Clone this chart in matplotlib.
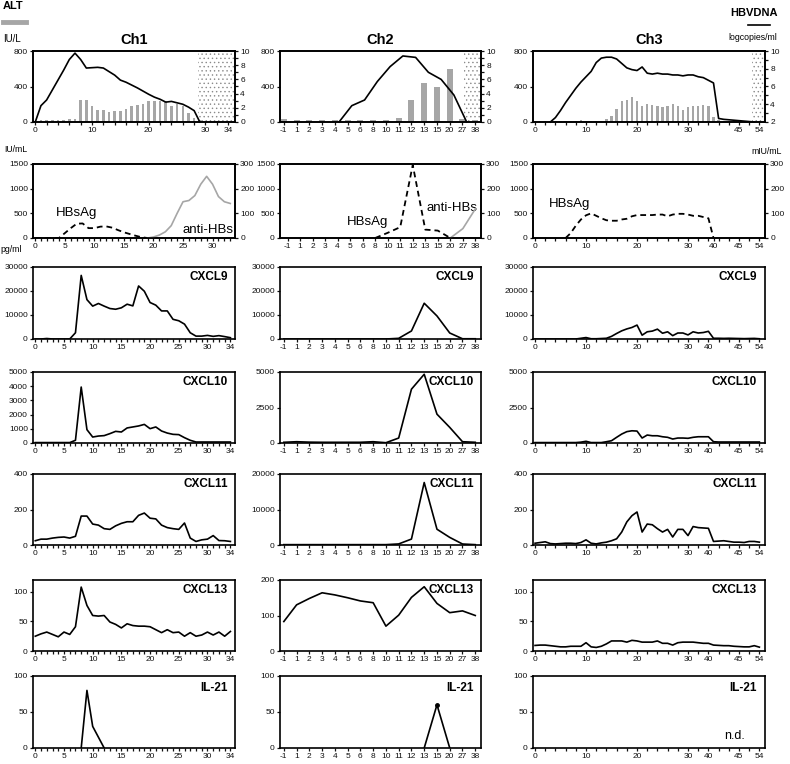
import numpy as np
import matplotlib.pyplot as plt
from matplotlib.lines import Line2D
from matplotlib.transforms import offset_copy

plt.rcParams['font.family'] = ['Liberation Sans', 'DejaVu Sans']
plt.rcParams['hatch.linewidth'] = 0.5
nan = np.nan

# x axes: Ch1 daily, Ch2 categorical sample days, Ch3 sample index
ch1_days = np.arange(35)
ch2_days = ['-1', '1', '2', '3', '4', '5', '6', '8', '10', '11', '12', '13', '15', '20', '27', '38']
ch3_idx = np.arange(45)

ch1_lab_top = [0, 10, 20, 30, 34]
ch1_lab_hbs = [0, 5, 10, 15, 20, 25, 30]
ch1_lab = [0, 5, 10, 15, 20, 25, 30, 34]
ch3_lab_top = ['0', '10', '20', '30', '45', '54']
ch3_pos_top = [0, 10, 20, 30, 40, 44]
ch3_lab_hbs = ['0', '10', '20', '30', '40', '45', '54']
ch3_pos_hbs = [0, 10, 20, 30, 35, 40, 44]
ch3_lab = ['0', '10', '20', '30', '40', '45', '54']
ch3_pos = [0, 10, 20, 30, 34, 40, 44]

# ALT (IU/L) bars and HBV DNA (log copies/ml) lines
ch1_alt = [10, 20, 20, 20, 25, 25, 30, 35, 250, 243, 176, 138, 138, 112, 127, 127, 150, 176,
           195, 205, 232, 232, 240, 240, 183, 202, 183, 100, 45, 25, 15, 15, 15, 15, 15]
ch1_dna_days = [0, 1, 2, 4, 5, 6, 7, 8, 9, 11, 12, 14, 15, 16, 18, 20, 21, 22, 23, 24, 26, 27, 28, 29]
ch1_dna = [0, 2.3, 3.1, 5.9, 7.3, 8.8, 9.7, 8.8, 7.6, 7.7, 7.6, 6.6, 5.9, 5.6, 4.8, 3.9, 3.5,
           3.2, 2.8, 2.9, 2.5, 2.1, 1.6, 0]
ch2_alt = [34, 26, 26, 26, 26, 19, 26, 26, 26, 45, 250, 437, 400, 598, 37, 22]
ch2_dna = [nan, nan, nan, nan, 0, 2.3, 3.1, 5.7, 7.8, 9.3, 9.1, 7.0, 6.0, 3.8, 0, nan]
ch3_alt = [15, 15, 15, 15, 15, 15, 15, 15, 15, 20, 15, 15, 15, 15, 30, 71, 146, 232, 250, 277,
           239, 183, 202, 194, 183, 164, 183, 206, 176, 138, 164, 176, 176, 187, 183, 52,
           20, 15, 15, 15, 15, 15, 15, 15, 15]
ch3_dna = [nan, nan, nan, 2.0, 2.5, 3.3, 4.2, 5.0, 5.8, 6.5, 7.1, 7.7, 8.7, 9.2, 9.3, 9.3, 9.1,
           8.6, 8.1, 7.9, 7.8, 8.2, 7.5, 7.4, 7.5, 7.4, 7.4, 7.3, 7.3, 7.2, 7.3, 7.3, 7.1, 7.0,
           6.7, 6.4, 2.4, 2.3, 2.25, 2.2, 2.15, 2.1, 2.05, 2.0, nan]
dotted_from = {1: 28.7, 2: 14.1, 3: 42.5}

# HBsAg (dashed) and anti-HBs (grey)
ch1_hbsag = [0, 0, 0, 0, 0, 100, 200, 290, 295, 200, 200, 230, 235, 210, 160, 115, 80, 45, 15, 0]
ch1_anti_days = np.arange(19, 34)
ch1_anti = [0, 4, 12, 25, 50, 100, 147, 152, 172, 218, 250, 218, 168, 147, 140]
ch2_hbsag = [nan, nan, nan, nan, nan, nan, nan, 0, 105, 220, 1480, 170, 150, 0, nan, nan]
ch2_anti = [nan, nan, nan, nan, nan, nan, nan, nan, nan, nan, nan, nan, nan, 0, 38, 118]
ch3_hbsag = [nan, nan, nan, nan, nan, nan, 0, 20, 50, 75, 92, 100, 90, 80, 72, 70, 70, 75, 78,
             88, 93, 93, 93, 93, 95, 95, 88, 95, 98, 98, 95, 90, 90, 85, 80, 0] + [nan] * 9

# cytokines (pg/ml)
ch1_cxcl9 = [0, 0, 200, 0, 0, 0, 0, 2600, 26500, 16400, 13700, 14800, 13700, 12700, 12400, 13000,
             14500, 13800, 22100, 19900, 15200, 14100, 11700, 11700, 8200, 7600, 6200, 2600, 1200,
             1200, 1500, 1100, 1400, 1000, 550]
ch1_cxcl10 = [30, 30, 30, 30, 30, 30, 30, 190, 3940, 940, 420, 490, 520, 660, 820, 775, 1060, 1130,
              1200, 1310, 1010, 1130, 845, 700, 610, 590, 375, 190, 70, 70, 70, 70, 70, 70, 70]
ch1_cxcl11 = [24, 33, 33, 39, 43, 45, 39, 49, 163, 163, 118, 112, 92, 88, 108, 122, 131, 131, 167,
              180, 151, 147, 112, 98, 92, 88, 124, 39, 20, 29, 33, 53, 25, 24, 20]
ch1_cxcl13 = [25, 29, 32, 28, 24, 32, 28, 41, 108, 77, 60, 59, 60, 49, 45, 39, 46, 43, 42, 42, 41,
              36, 31, 36, 31, 32, 25, 31, 25, 27, 32, 27, 32, 25, 33]
ch1_il21_days = [8, 9, 10, 11, 12]
ch1_il21 = [0, 80, 30, 15, 0]

ch2_cxcl9 = [0, 0, 0, 0, 0, 0, 0, 0, 0, 280, 3350, 14900, 9600, 2500, 100, 100]
ch2_cxcl10 = [50, 90, 60, 50, 50, 50, 50, 90, 20, 350, 3790, 4840, 2030, 1100, 90, 50]
ch2_cxcl11 = [100, 100, 100, 100, 100, 100, 100, 100, 100, 300, 1670, 17600, 4440, 2140, 280, 100]
ch2_cxcl13 = [83, 130, 148, 164, 158, 150, 141, 136, 70, 101, 151, 181, 134, 108, 113, 100]
ch2_il21 = [nan] * 11 + [0, 60, 0] + [nan, nan]

ch3_cxcl9 = [0, 0, 0, 0, 0, 0, 0, 0, 0, 300, 600, 100, 100, 200, 300, 1100, 2300, 3400, 4200, 4800,
             5800, 1600, 3000, 3300, 4100, 2400, 3000, 1400, 2500, 2500, 1700, 3000, 2500, 2700,
             3200, 300, 300, 250, 300, 250, 200, 150, 200, 250, 100]
ch3_cxcl10 = [30] * 9 + [60, 120, 30, 30, 30, 90, 160, 400, 630, 800, 860, 840, 350, 560, 510, 510,
                         440, 400, 280, 350, 350, 330, 400, 440, 440, 440, 90] + [70] * 9
ch3_cxcl11 = [10, 14, 18, 8, 6, 8, 10, 10, 8, 14, 29, 10, 6, 12, 16, 24, 35, 73, 130, 165,
              186, 73, 118, 114, 92, 73, 88, 45, 88, 88, 53, 104, 98, 96, 94, 20, 22, 24, 20, 16,
              16, 14, 20, 20, 16]
ch3_cxcl13 = [9.4, 10, 10, 9, 8, 7, 7, 8, 8, 8, 14, 7, 6, 8, 12, 17, 17, 17, 15, 18,
              17, 15, 15, 15, 17, 13, 13, 10, 14, 15, 15, 15, 14, 13, 13, 10, 9.5, 9, 9, 8,
              7.5, 7, 7, 9, 6.5]

W, H = 790, 764
fig = plt.figure(figsize=(W / 100, H / 100), dpi=100)
GREY = '#a6a6a6'
COLS = {1: (33, 235), 2: (280, 481), 3: (533, 765)}
ROWS = [(51, 122), (164, 238), (267, 339), (372, 443), (474, 545), (580, 651), (676, 748)]


def add_ax(col, row):
    x0, x1 = COLS[col]
    y0, y1 = ROWS[row]
    ax = fig.add_axes([x0 / W, 1 - y1 / H, (x1 - x0) / W, (y1 - y0) / H])
    return ax


def style(ax):
    for s in ax.spines.values():
        s.set_linewidth(1.2)
    ax.tick_params(which='both', direction='out', length=2.5, width=0.9,
                   labelsize=6, pad=1.2, colors='#111111')


def xaxis(ax, col, row):
    if col == 1:
        if row == 0:
            ax.set_xlim(-0.4, 35.2)
            ax.set_xticks(np.arange(0, 35, 2), minor=True)
            labs = ch1_lab_top
        elif row == 1:
            ax.set_xlim(-0.4, 33.8)
            ax.set_xticks(np.arange(0, 34), minor=True)
            labs = ch1_lab_hbs
        else:
            ax.set_xlim(-0.4, 34.8)
            ax.set_xticks(np.arange(0, 35), minor=True)
            labs = ch1_lab
        ax.set_xticks(labs, [str(v) for v in labs])
    elif col == 2:
        ax.set_xlim(-0.6 if row == 1 else -0.3, 15.45)
        ax.set_xticks(np.arange(len(ch2_days)), ch2_days)
    else:
        ax.set_xlim(-0.4, 45.1)
        ax.set_xticks(np.arange(0, 45, 2), minor=True)
        if row == 0:
            ax.set_xticks(ch3_pos_top, ch3_lab_top)
        elif row == 1:
            ax.set_xticks(ch3_pos_hbs, ch3_lab_hbs)
        else:
            ax.set_xticks(ch3_pos, ch3_lab)


def ftext(x, y, s, **kw):
    fig.text(x / W, 1 - y / H, s, **kw)


# ---- row 1: ALT + HBV DNA ----
top = {1: (ch1_days, ch1_alt, ch1_dna_days, ch1_dna, 0),
       2: (np.arange(16), ch2_alt, np.arange(16), ch2_dna, 0),
       3: (ch3_idx, ch3_alt, ch3_idx, ch3_dna, 2)}
for col, (xb, alt, xl, dna, ymin) in top.items():
    ax = add_ax(col, 0)
    style(ax)
    xaxis(ax, col, 0)
    ax.axvspan(dotted_from[col], ax.get_xlim()[1], facecolor='white', edgecolor='#8a8a8a',
               hatch='....', lw=0, zorder=0)
    ax.bar(xb, alt, width=0.45 if col != 2 else 0.47, color=GREY, zorder=2)
    ax.set_ylim(0, 800)
    ax.set_yticks([0, 400, 800])
    ax2 = ax.twinx()
    style(ax2)
    tr = offset_copy(ax2.transData, fig=fig, x=3, y=0, units='points') if col == 2 else ax2.transData
    ax2.plot(xl, dna, color='black', lw=1.2, transform=tr, clip_on=False)
    ax2.set_ylim(ymin, 10)
    ax2.set_yticks(np.arange(ymin, 11, 2))
    ax2.set_yticks(np.arange(ymin, 11, 1), minor=True)

# ---- row 2: HBsAg / anti-HBs ----
for col in (1, 2, 3):
    ax = add_ax(col, 1)
    style(ax)
    xaxis(ax, col, 1)
    ax.set_ylim(0, 1500)
    ax.set_yticks([0, 500, 1000, 1500])
    ax2 = ax.twinx()
    style(ax2)
    ax2.set_ylim(0, 300)
    ax2.set_yticks([0, 100, 200, 300])
    dash = dict(color='black', lw=1.3, linestyle=(0, (3.2, 2.2)))
    if col == 1:
        ax.plot(ch1_days[:len(ch1_hbsag)], ch1_hbsag, **dash)
        ax2.plot(ch1_anti_days, ch1_anti, color=GREY, lw=1.2)
        ax.text(7, 500, 'HBsAg', ha='center', va='center', fontsize=9.5)
        ax.text(29.3, 170, 'anti-HBs', ha='center', va='center', fontsize=9.5)
    elif col == 2:
        ax.plot(np.arange(16), ch2_hbsag, **dash)
        ax2.plot(np.arange(16), ch2_anti, color=GREY, lw=1.2, clip_on=False)
        ax.text(6.4, 330, 'HBsAg', ha='center', va='center', fontsize=9.5)
        ax.text(13.1, 600, 'anti-HBs', ha='center', va='center', fontsize=9.5)
    else:
        ax2.plot(ch3_idx, ch3_hbsag, **dash)
        ax.text(6.8, 680, 'HBsAg', ha='center', va='center', fontsize=9.5)

# ---- cytokine rows ----
cyto = [
    ('CXCL9', [(ch1_days, ch1_cxcl9), (np.arange(16), ch2_cxcl9), (ch3_idx, ch3_cxcl9)],
     [(30000, [0, 10000, 20000, 30000])] * 3),
    ('CXCL10', [(ch1_days, ch1_cxcl10), (np.arange(16), ch2_cxcl10), (ch3_idx, ch3_cxcl10)],
     [(5000, [0, 1000, 2000, 3000, 4000, 5000]), (5000, [0, 2500, 5000]), (5000, [0, 2500, 5000])]),
    ('CXCL11', [(ch1_days, ch1_cxcl11), (np.arange(16), ch2_cxcl11), (ch3_idx, ch3_cxcl11)],
     [(400, [0, 200, 400]), (20000, [0, 10000, 20000]), (400, [0, 200, 400])]),
    ('CXCL13', [(ch1_days, ch1_cxcl13), (np.arange(16), ch2_cxcl13), (ch3_idx, ch3_cxcl13)],
     [(120, [0, 50, 100]), (200, [0, 100, 200]), (120, [0, 50, 100])]),
    ('IL-21', [(ch1_il21_days, ch1_il21), (np.arange(16), ch2_il21), None],
     [(100, [0, 50, 100])] * 3),
]
for r, (name, series, yax) in enumerate(cyto):
    row = r + 2
    for c in range(3):
        col = c + 1
        ax = add_ax(col, row)
        style(ax)
        xaxis(ax, col, row)
        ymax, yt = yax[c]
        ax.set_ylim(0, ymax)
        ax.set_yticks(yt)
        if series[c] is not None:
            xs, ys = series[c]
            kw = dict(marker='o', ms=2.5, markevery=[12]) if (name == 'IL-21' and col == 2) else {}
            ax.plot(xs, ys, color='black', lw=1.2, **kw)
        else:
            ax.text(0.87, 0.16, 'n.d.', transform=ax.transAxes, ha='center', va='center', fontsize=9)
        ax.text(0.965, 0.84 if name == 'IL-21' else 0.86, name, transform=ax.transAxes,
                ha='right', va='center', fontsize=8.5, fontweight='bold')

# ---- headers / units / legend keys ----
ftext(3, 6, 'ALT', ha='left', va='center', fontsize=8, fontweight='bold')
fig.add_artist(Line2D([3 / W, 26 / W], [1 - 21.5 / H] * 2, color=GREY, lw=3.5))
ftext(3, 39, 'IU/L', ha='left', va='center', fontsize=7)
ftext(754, 13, 'HBVDNA', ha='center', va='center', fontsize=8, fontweight='bold')
fig.add_artist(Line2D([748 / W, 770 / W], [1 - 25 / H] * 2, color='black', lw=1.2))
ftext(753, 38, 'logcopies/ml', ha='center', va='center', fontsize=6.3)
for col, name in ((1, 'Ch1'), (2, 'Ch2'), (3, 'Ch3')):
    ftext(sum(COLS[col]) / 2, 40, name, ha='center', va='center', fontsize=10.5, fontweight='bold')
ftext(4, 149, 'IU/mL', ha='left', va='center', fontsize=6.3)
ftext(767, 151, 'mIU/mL', ha='center', va='center', fontsize=6.3)
ftext(0, 250, 'pg/ml', ha='left', va='center', fontsize=6.3)

fig.savefig('out.png', dpi=100)
